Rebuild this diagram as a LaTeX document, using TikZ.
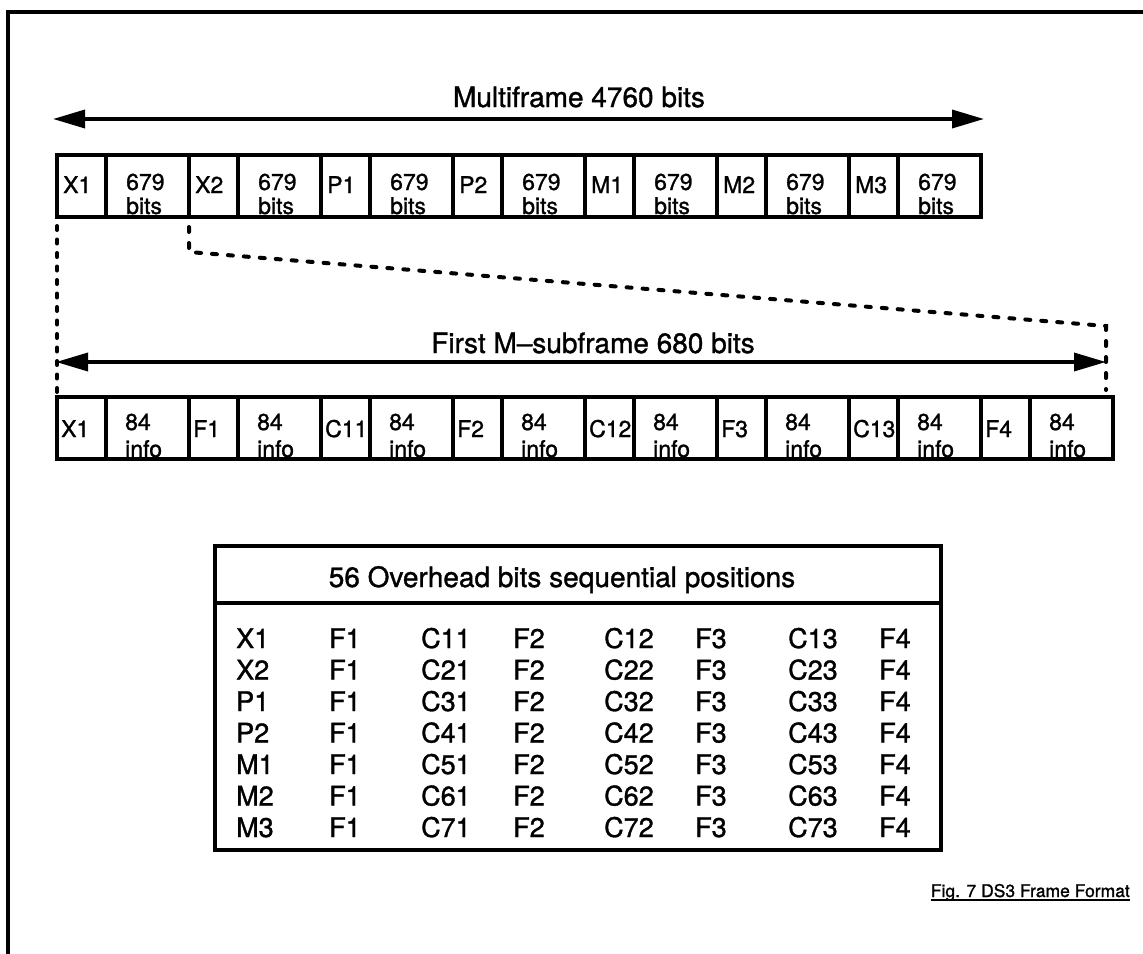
\documentclass[tikz,border=0pt]{standalone}
\usepackage{fontspec}
\setmainfont{TeX Gyre Heros}[FakeBold=1.2]
\usetikzlibrary{arrows.meta}
\begin{document}
\begin{tikzpicture}[x=1pt,y=-1pt,
  frameline/.style={line width=4pt},
  cellbox/.style={draw, line width=3.5pt, inner sep=0pt, outer sep=0pt, anchor=north west, minimum height=62pt},
  ovh/.style={cellbox, minimum width=49pt},
  dat/.style={cellbox, minimum width=83pt},
  lbl/.style={inner sep=0pt, anchor=base west, font=\fontsize{23}{25}\selectfont},
  dimarrow/.style={line width=3.5pt, {Triangle[length=32pt,width=18pt]}-{Triangle[length=32pt,width=18pt]}},
  dashA/.style={line width=4pt, dash pattern=on 4pt off 9.5pt, line cap=round},
  dashB/.style={line width=4pt, dash pattern=on 5pt off 11pt, line cap=round},
  ttl/.style={inner sep=0pt, anchor=base, font=\fontsize{28}{30}\selectfont},
  tent/.style={inner sep=0pt, anchor=base west, font=\fontsize{27}{29}\selectfont},
  capt/.style={inner sep=0pt, anchor=base east, font=\fontsize{17.5}{19}\selectfont},
]
\useasboundingbox (0,0) rectangle (1143,953);
\fill[white] (0,0) rectangle (1143,953);
% outer frame
\coordinate (fTR) at (1150,12);
\coordinate (fTL) at (8,12);
\coordinate (fBL) at (8,960);
\draw[frameline] (fTR) -- (fTL) -- (fBL);

% multiframe arrow
\coordinate (m1L) at (53,119);
\coordinate (m1R) at (984,119);
\draw[dimarrow] (m1L) -- (m1R);
\node[ttl] (mft) at (579,107) {Multiframe 4760 bits};

% top row
\foreach \k/\lab in {0/X1,1/X2,2/P1,3/P2,4/M1,5/M2,6/M3} {
  \node[ovh] (to\k) at ({57+132*\k},155) {};
  \node[dat] (td\k) at ({106+132*\k},155) {};
  \node[lbl] (tol\k) at ({63+132*\k},193) {\lab};
  \node[lbl] (tdn\k) at ({126+132*\k},190) {679};
  \node[lbl] (tdb\k) at ({126+132*\k},214) {bits};
}

% bottom row
\foreach \k/\lab in {0/X1,1/F1,2/C11,3/F2,4/C12,5/F3,6/C13,7/F4} {
  \node[ovh] (bo\k) at ({57+132*\k},397) {};
  \node[dat] (bd\k) at ({106+132*\k},397) {};
  \node[lbl] (bol\k) at ({61+132*\k},437) {\lab};
  \node[lbl] (bdn\k) at ({125+132*\k},430) {84};
  \node[lbl] (bdi\k) at ({125+132*\k},457) {info};
}

% dashed connectors
\draw[dashA, shorten <=9pt] (to0.south west) -- (bo0.north west);
\coordinate (xk1) at (189,252);
\coordinate (xk2) at (1106,326);
\coordinate (xk3) at (1106,390);
\draw[dashB, shorten <=10pt] (to1.south west) -- (xk1) -- (xk2) -- (xk3);

% subframe arrow
\coordinate (s1L) at (56,362);
\coordinate (s1R) at (1106,362);
\draw[dimarrow] (s1L) -- (s1R);
\node[ttl] (sft) at (593,353) {First M--subframe 680 bits};

% table
\node[draw, line width=3.5pt, inner sep=0pt, anchor=north west, minimum width=726pt, minimum height=304pt] (tbl) at (213,544) {};
\coordinate (hdy) at (0,603);
\draw[line width=3.5pt] (tbl.west |- hdy) -- (tbl.east |- hdy);
\node[ttl] (thd) at (562,587) {56 Overhead bits sequential positions};

\foreach \r/\a in {1/X1,2/X2,3/P1,4/P2,5/M1,6/M2,7/M3} {
  \pgfmathsetmacro\yy{648+31.5*(\r-1)}
  \node[tent] (e\r-a) at (236,\yy) {\a};
  \node[tent] (e\r-b) at (329,\yy) {F1};
  \node[tent] (e\r-c) at (421,\yy) {C\r1};
  \node[tent] (e\r-d) at (513,\yy) {F2};
  \node[tent] (e\r-e) at (604,\yy) {C\r2};
  \node[tent] (e\r-f) at (695,\yy) {F3};
  \node[tent] (e\r-g) at (788,\yy) {C\r3};
  \node[tent] (e\r-h) at (879,\yy) {F4};
}

% caption
\node[capt] (cap) at (1130,897) {Fig. 7 DS3 Frame Format};
\draw[line width=2.5pt] ([yshift=-3pt]cap.base west) -- ([yshift=-3pt]cap.base east);
\end{tikzpicture}
\end{document}
